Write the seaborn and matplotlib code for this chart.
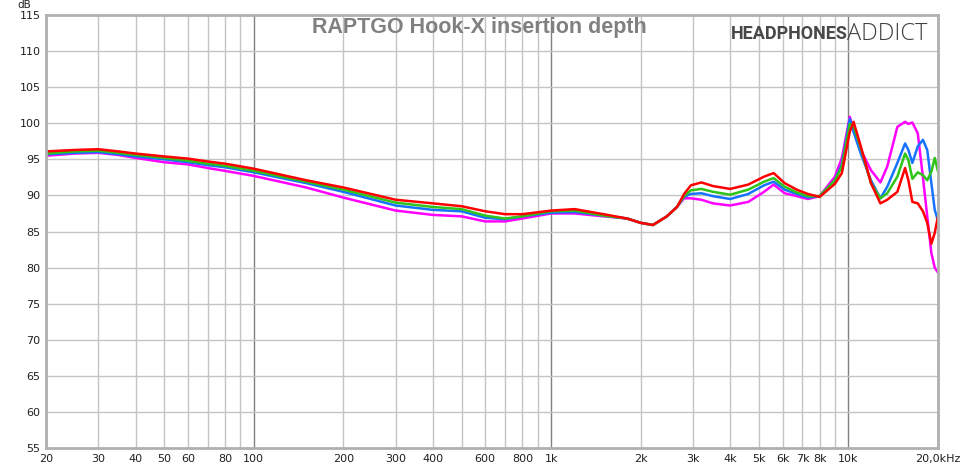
import numpy as np
import pandas as pd
import seaborn as sns
import matplotlib.pyplot as plt
from matplotlib.ticker import FixedLocator, NullLocator

# frequency grid (Hz)
freqs = [20, 25, 30, 35, 40, 50, 60, 70, 80, 100, 150, 200, 300, 400, 500,
         600, 700, 800, 1000, 1200, 1500, 1800, 2000, 2200, 2450, 2650, 2800,
         2950, 3200, 3500, 4000, 4600, 5200, 5600, 6100, 6700, 7300, 8000, 9000,
         9500, 10100, 10400, 11000, 11900, 12800, 13500, 14600, 15500, 15900,
         16400, 17100, 17800, 18400, 19000, 19500, 20000]

# measured SPL (dB) for each insertion depth
red = [96.1, 96.3, 96.4, 96.1, 95.8, 95.4, 95.1, 94.7, 94.4, 93.7, 92.1, 91.1,
       89.4, 88.9, 88.5, 87.8, 87.4, 87.4, 87.9, 88.1, 87.4, 86.8, 86.2,
       85.9, 87.1, 88.4, 90.2, 91.4, 91.8, 91.3, 90.9, 91.5, 92.6, 93.1, 91.7,
       90.8, 90.2, 89.8, 91.6, 93.1, 98.8, 100.2, 96.8, 91.7, 88.9, 89.4, 90.5,
       93.8, 92.1, 89.1, 88.9, 87.8, 86.2, 83.3, 84.8, 87.1]
green = [95.8, 96.1, 96.2, 95.9, 95.6, 95.2, 94.8, 94.4, 94.1, 93.4, 91.9, 90.8,
         89.0, 88.4, 88.1, 87.2, 86.8, 87.1, 87.8, 87.9, 87.2, 86.8, 86.2,
         85.9, 87.1, 88.4, 89.9, 90.7, 90.9, 90.5, 90.1, 90.8, 91.9, 92.4, 91.2,
         90.4, 89.9, 89.9, 92.1, 94.0, 99.9, 99.6, 96.6, 91.7, 89.6, 90.3, 92.6,
         95.8, 94.9, 92.3, 93.2, 92.8, 92.1, 93.3, 95.2, 93.3]
blue = [95.7, 95.9, 96.0, 95.7, 95.4, 95.0, 94.6, 94.2, 93.9, 93.2, 91.7, 90.5,
        88.6, 88.0, 87.8, 86.9, 86.7, 87.1, 87.6, 87.7, 87.2, 86.8, 86.2,
        85.9, 87.1, 88.4, 89.8, 90.2, 90.3, 89.9, 89.5, 90.2, 91.4, 91.9, 90.8,
        90.2, 89.7, 89.9, 92.1, 94.3, 100.6, 98.8, 95.8, 92.1, 89.6, 91.2, 94.5,
        97.2, 96.3, 94.5, 96.8, 97.7, 96.3, 91.7, 88.0, 86.5]
magenta = [95.5, 95.8, 95.9, 95.6, 95.2, 94.6, 94.3, 93.8, 93.4, 92.7, 91.1,
           89.7, 87.9, 87.3, 87.1, 86.4, 86.4, 86.8, 87.5, 87.5, 87.1, 86.8,
           86.2, 85.9, 87.1, 88.4, 89.6, 89.6, 89.4, 88.9, 88.6, 89.1, 90.5,
           91.5, 90.3, 89.9, 89.5, 89.9, 92.6, 95.2, 100.9, 99.0, 96.3, 93.5,
           91.8, 94.0, 99.5, 100.2, 99.9, 100.1, 98.6, 92.5, 87.1, 82.0, 80.0,
           79.3]

series = {"magenta": magenta, "blue": blue, "green": green, "red": red}
colors = {"magenta": "#ff00ff", "blue": "#1673ff", "green": "#2ec41a", "red": "#ff0000"}

df = pd.concat([pd.DataFrame({"freq": freqs, "db": v, "depth": k})
                for k, v in series.items()], ignore_index=True)

sns.set_theme(style="white")
plt.rcParams['font.family'] = ['DejaVu Sans']

fig = plt.figure(figsize=(9.6, 4.7), dpi=100)
ax = fig.add_axes([46 / 960, 1 - 448 / 470, 892 / 960, 433 / 470])

sns.lineplot(data=df, x="freq", y="db", hue="depth", palette=colors,
             linewidth=1.8, legend=False, ax=ax, sort=False)

ax.set_xscale("log")
ax.set_xlim(20, 20000)
ax.set_ylim(55, 115)

# grid
minor_f = [d * m for d in (10, 100, 1000, 10000) for m in range(1, 10)]
minor_f = [f for f in minor_f if 20 <= f <= 20000]
for f in minor_f:
    c = "#808080" if f in (100, 1000, 10000) else "#c4c4c4"
    ax.axvline(f, color=c, lw=1, zorder=0)
for y in range(55, 116, 5):
    ax.axhline(y, color="#c4c4c4", lw=1, zorder=0)

xt = [20, 30, 40, 50, 60, 80, 100, 200, 300, 400, 600, 800, 1000, 2000, 3000,
      4000, 5000, 6000, 7000, 8000, 10000, 20000]
xl = ["20", "30", "40", "50", "60", "80", "100", "200", "300", "400", "600",
      "800", "1k", "2k", "3k", "4k", "5k", "6k", "7k", "8k", "10k", "20,0kHz"]
ax.xaxis.set_major_locator(FixedLocator(xt))
ax.xaxis.set_minor_locator(NullLocator())
ax.set_xticklabels(xl)
ax.set_yticks(range(55, 116, 5))
ax.tick_params(axis="both", length=0, labelsize=8, colors="#202020")
ax.tick_params(axis="x", pad=4)
ax.tick_params(axis="y", pad=4)
ax.set_xlabel("")
ax.set_ylabel("")
ax.grid(False)

for s in ax.spines.values():
    s.set_color("#b0b0b0")
    s.set_linewidth(2)

fig.text(24 / 960, 1 - 9.5 / 470, "dB", fontsize=7.5, color="#202020",
         ha="center", va="bottom")
fig.text(479 / 960, 1 - 27 / 470, "RAPTGO Hook-X insertion depth",
         fontsize=15.5, fontweight="bold", color="#808080", ha="center",
         va="center", family="Liberation Sans")
fig.text(848 / 960, 1 - 34 / 470, "HEADPHONES", fontsize=13,
         fontweight="bold", color="#484848", ha="right", va="center",
         family="Roboto")
fig.text(847 / 960, 1 - 34 / 470, "ADDICT", fontsize=17,
         fontweight="light", color="#404040", ha="left", va="center",
         family="Open Sans")

fig.savefig("out.png", dpi=100)
